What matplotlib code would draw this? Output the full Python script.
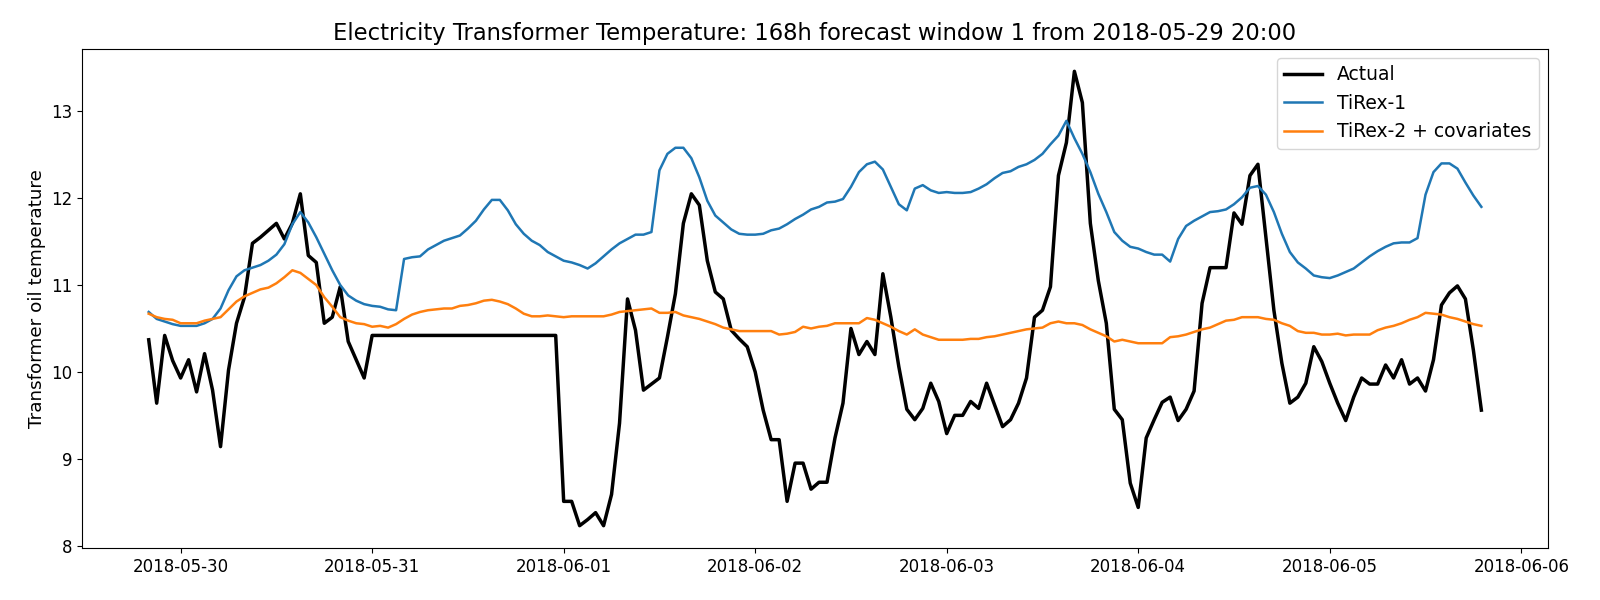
import numpy as np
import pandas as pd
import matplotlib
matplotlib.use("Agg")
import matplotlib.pyplot as plt

start = "2018-05-29 20:00"
n_hours = 168

actual = [10.37, 9.64, 10.42, 10.13, 9.93, 10.14, 9.77, 10.21, 9.79, 9.14,
          10.02, 10.56, 10.86, 11.48, 11.55, 11.63, 11.71, 11.53, 11.71, 12.05,
          11.34, 11.26, 10.56, 10.63, 10.98, 10.35, 10.14, 9.93,
          10.42, 10.42, 10.42, 10.42, 10.42, 10.42, 10.42, 10.42, 10.42, 10.42,
          10.42, 10.42, 10.42, 10.42, 10.42, 10.42, 10.42, 10.42, 10.42, 10.42,
          10.42, 10.42, 10.42, 10.42,
          8.51, 8.51, 8.23, 8.30, 8.38, 8.23, 8.59, 9.41,
          10.84, 10.48, 9.79, 9.86, 9.93, 10.40, 10.90, 11.71, 12.05, 11.92,
          11.28, 10.92, 10.84, 10.48, 10.38, 10.29, 10.00, 9.56, 9.22, 9.22,
          8.51, 8.95, 8.95, 8.65, 8.73, 8.73, 9.24, 9.64, 10.50, 10.20,
          10.35, 10.20, 11.13, 10.63, 10.06, 9.57, 9.45, 9.58, 9.87, 9.66,
          9.29, 9.50, 9.50, 9.66, 9.58, 9.87, 9.62, 9.37, 9.45, 9.64,
          9.93, 10.63, 10.71, 10.98, 12.26, 12.64, 13.46, 13.10, 11.71, 11.05,
          10.56, 9.57, 9.45, 8.72, 8.44, 9.24, 9.45, 9.65, 9.71, 9.44,
          9.57, 9.78, 10.79, 11.20, 11.20, 11.20, 11.83, 11.70, 12.26, 12.39,
          11.55, 10.71, 10.10, 9.64, 9.71, 9.87, 10.29, 10.12, 9.87, 9.64,
          9.44, 9.71, 9.93, 9.86, 9.86, 10.08, 9.93, 10.14, 9.86, 9.93,
          9.78, 10.14, 10.77, 10.91, 10.99, 10.84, 10.25, 9.56]

tirex1 = [10.69, 10.61, 10.58, 10.55, 10.53, 10.53, 10.53, 10.56, 10.61, 10.73,
          10.94, 11.10, 11.17, 11.20, 11.23, 11.28, 11.35, 11.47, 11.70, 11.84,
          11.72, 11.55, 11.36, 11.17, 11.00, 10.88, 10.82, 10.78, 10.76, 10.75,
          10.72, 10.71, 11.30, 11.32, 11.33, 11.41, 11.46, 11.51, 11.54, 11.57,
          11.65, 11.74, 11.87, 11.98, 11.98, 11.86, 11.70, 11.59, 11.51, 11.46,
          11.38, 11.33, 11.28, 11.26, 11.23, 11.19, 11.25, 11.33, 11.41, 11.48,
          11.53, 11.58, 11.58, 11.61, 12.32, 12.51, 12.58, 12.58, 12.46, 12.24,
          11.97, 11.80, 11.72, 11.64, 11.59, 11.58, 11.58, 11.59, 11.63, 11.65,
          11.70, 11.76, 11.81, 11.87, 11.90, 11.95, 11.96, 11.99, 12.13, 12.30,
          12.39, 12.42, 12.33, 12.13, 11.93, 11.86, 12.11, 12.15, 12.09, 12.06,
          12.07, 12.06, 12.06, 12.07, 12.11, 12.16, 12.23, 12.29, 12.31, 12.36,
          12.39, 12.44, 12.51, 12.62, 12.72, 12.89, 12.69, 12.51, 12.30, 12.05,
          11.84, 11.61, 11.51, 11.44, 11.42, 11.38, 11.35, 11.35, 11.27, 11.53,
          11.68, 11.74, 11.79, 11.84, 11.85, 11.87, 11.93, 12.01, 12.12, 12.14,
          12.04, 11.84, 11.59, 11.38, 11.26, 11.19, 11.11, 11.09, 11.08, 11.11,
          11.15, 11.19, 11.26, 11.33, 11.39, 11.44, 11.48, 11.49, 11.49, 11.54,
          12.04, 12.30, 12.40, 12.40, 12.34, 12.18, 12.03, 11.90]

tirex2_cov = [10.67, 10.63, 10.61, 10.60, 10.56, 10.56, 10.56, 10.59, 10.61, 10.63,
              10.72, 10.81, 10.87, 10.91, 10.95, 10.97, 11.02, 11.09, 11.17, 11.14,
              11.07, 11.00, 10.86, 10.75, 10.63, 10.59, 10.56, 10.55, 10.52, 10.53,
              10.51, 10.55, 10.61, 10.66, 10.69, 10.71, 10.72, 10.73, 10.73, 10.76,
              10.77, 10.79, 10.82, 10.83, 10.81, 10.78, 10.73, 10.67, 10.64, 10.64,
              10.65, 10.64, 10.63, 10.64, 10.64, 10.64, 10.64, 10.64, 10.66, 10.69,
              10.70, 10.71, 10.72, 10.73, 10.68, 10.68, 10.69, 10.65, 10.63, 10.61,
              10.58, 10.55, 10.51, 10.49, 10.47, 10.47, 10.47, 10.47, 10.47, 10.43,
              10.44, 10.46, 10.52, 10.50, 10.52, 10.53, 10.56, 10.56, 10.56, 10.56,
              10.62, 10.60, 10.56, 10.52, 10.47, 10.43, 10.49, 10.43, 10.40, 10.37,
              10.37, 10.37, 10.37, 10.38, 10.38, 10.40, 10.41, 10.43, 10.45, 10.47,
              10.49, 10.50, 10.51, 10.56, 10.58, 10.56, 10.56, 10.54, 10.49, 10.45,
              10.41, 10.35, 10.37, 10.35, 10.33, 10.33, 10.33, 10.33, 10.40, 10.41,
              10.43, 10.46, 10.49, 10.51, 10.55, 10.59, 10.60, 10.63, 10.63, 10.63,
              10.61, 10.60, 10.56, 10.53, 10.47, 10.45, 10.45, 10.43, 10.43, 10.44,
              10.42, 10.43, 10.43, 10.43, 10.48, 10.51, 10.53, 10.56, 10.60, 10.63,
              10.68, 10.67, 10.66, 10.63, 10.61, 10.58, 10.55, 10.53]

times = pd.date_range(start=start, periods=n_hours, freq="h")

fig, ax = plt.subplots(figsize=(16, 6), dpi=100)
fig.subplots_adjust(left=0.0513, right=0.9675, bottom=0.086, top=0.919)
ax.plot(times, actual, color="black", lw=2.5, label="Actual")
ax.plot(times, tirex1, color="#1f77b4", lw=1.8, label="TiRex-1")
ax.plot(times, tirex2_cov, color="#ff7f0e", lw=1.8, label="TiRex-2 + covariates")
ax.set_title("Electricity Transformer Temperature: 168h forecast window 1 from 2018-05-29 20:00",
             fontsize=16.3)
ax.set_ylabel("Transformer oil temperature", fontsize=13.2)
ax.tick_params(labelsize=12)
ax.legend(loc="upper right", fontsize=13.5)
fig.savefig("out.png")
